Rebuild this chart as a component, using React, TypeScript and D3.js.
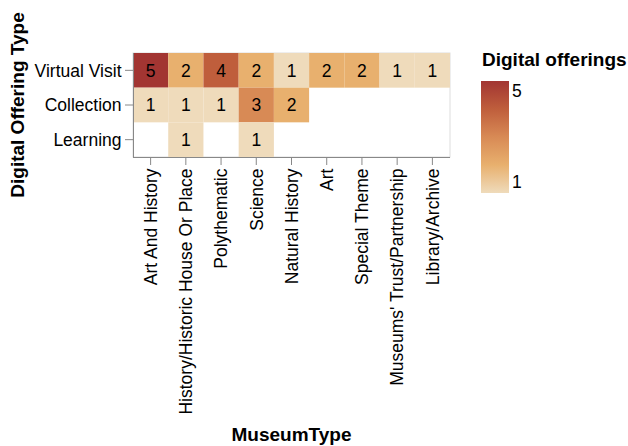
import React from "react";
import * as d3 from "d3";

const museumTypes = [
  "Art And History",
  "History/Historic House Or Place",
  "Polythematic",
  "Science",
  "Natural History",
  "Art",
  "Special Theme",
  "Museums' Trust/Partnership",
  "Library/Archive",
];
const offeringTypes = ["Virtual Visit", "Collection", "Learning"];
const virtualVisit = [5, 2, 4, 2, 1, 2, 2, 1, 1];
const collection = [1, 1, 1, 3, 2, null, null, null, null];
const learning = [null, 1, null, 1, null, null, null, null, null];
const colorStops = ["#efdbbb", "#e8b06e", "#d88a55", "#bf5e3c", "#a23532"];
const colorDomain = [1, 2, 3, 4, 5];
const legendTicks = [1, 5];

const W = 628;
const H = 446;
const FONT = "'Liberation Sans', Arial, Helvetica, sans-serif";
const LABEL = 17.5;
const TITLE = 19;

export default function App() {
  const left = 133, right = 450, top = 53, bottom = 157;
  const x = d3.scaleBand().domain(museumTypes).range([left, right]).padding(0);
  const y = d3.scaleBand().domain(offeringTypes).range([top, bottom]).padding(0);
  const color = d3.scaleLinear<string>().domain(colorDomain).range(colorStops).interpolate(d3.interpolateRgb);

  const rows = [virtualVisit, collection, learning];
  const cells: { m: string; o: string; v: number }[] = [];
  rows.forEach((vals, ri) =>
    vals.forEach((v, ci) => {
      if (v != null) cells.push({ m: museumTypes[ci], o: offeringTypes[ri], v });
    })
  );

  const gTop = 81, gBot = 193, gLeft = 481, gW = 28;

  return (
    <svg width={W} height={H} style={{ position: "absolute", left: 0, top: 0, background: "#fff" }} fontFamily={FONT}>
      <defs>
        <linearGradient id="lg" x1="0" y1="1" x2="0" y2="0">
          {colorDomain.map((d) => (
            <stop key={d} offset={(d - 1) / 4} stopColor={color(d)} />
          ))}
        </linearGradient>
      </defs>
      <rect x={left} y={top} width={right - left} height={bottom - top} fill="#fff" stroke="#ddd" />
      {cells.map((c, i) => (
        <rect key={i} x={x(c.m)} y={y(c.o)} width={x.bandwidth()} height={y.bandwidth()} fill={color(c.v)} />
      ))}
      {cells.map((c, i) => (
        <text
          key={"t" + i}
          x={(x(c.m) as number) + x.bandwidth() / 2}
          y={(y(c.o) as number) + y.bandwidth() / 2}
          dy="0.36em"
          textAnchor="middle"
          fontSize={LABEL}
          fill="#000"
        >
          {c.v}
        </text>
      ))}
      {/* y axis */}
      <line x1={left + 0.5} x2={left + 0.5} y1={top} y2={bottom} stroke="#888" />
      {offeringTypes.map((o) => {
        const cy = (y(o) as number) + y.bandwidth() / 2;
        return (
          <g key={o}>
            <line x1={left - 8} x2={left} y1={cy} y2={cy} stroke="#888" />
            <text x={left - 11.5} y={cy} dy="0.36em" textAnchor="end" fontSize={LABEL} fill="#000">
              {o}
            </text>
          </g>
        );
      })}
      {/* x axis */}
      <line x1={left} x2={right} y1={bottom + 0.5} y2={bottom + 0.5} stroke="#888" />
      {museumTypes.map((m) => {
        const cx = (x(m) as number) + x.bandwidth() / 2;
        return (
          <g key={m}>
            <line x1={cx} x2={cx} y1={bottom} y2={bottom + 8} stroke="#888" />
            <text
              transform={`translate(${cx},${bottom + 11.5}) rotate(-90)`}
              dy="0.36em"
              textAnchor="end"
              fontSize={LABEL}
              fill="#000"
            >
              {m}
            </text>
          </g>
        );
      })}
      <text x={(left + right) / 2} y={441} textAnchor="middle" fontSize={TITLE} fontWeight="bold" fill="#000">
        MuseumType
      </text>
      <text
        transform={`translate(24,${(top + bottom) / 2}) rotate(-90)`}
        textAnchor="middle"
        fontSize={TITLE}
        fontWeight="bold"
        fill="#000"
      >
        Digital Offering Type
      </text>
      {/* legend */}
      <text x={482} y={66} fontSize={TITLE} fontWeight="bold" fill="#000">
        Digital offerings
      </text>
      <rect x={gLeft} y={gTop} width={gW} height={gBot - gTop} fill="url(#lg)" />
      {legendTicks.map((t) => (
        <text key={t} x={gLeft + gW + 3} y={t === 5 ? 96.5 : 188} fontSize={LABEL} fill="#000">
          {t}
        </text>
      ))}
    </svg>
  );
}
